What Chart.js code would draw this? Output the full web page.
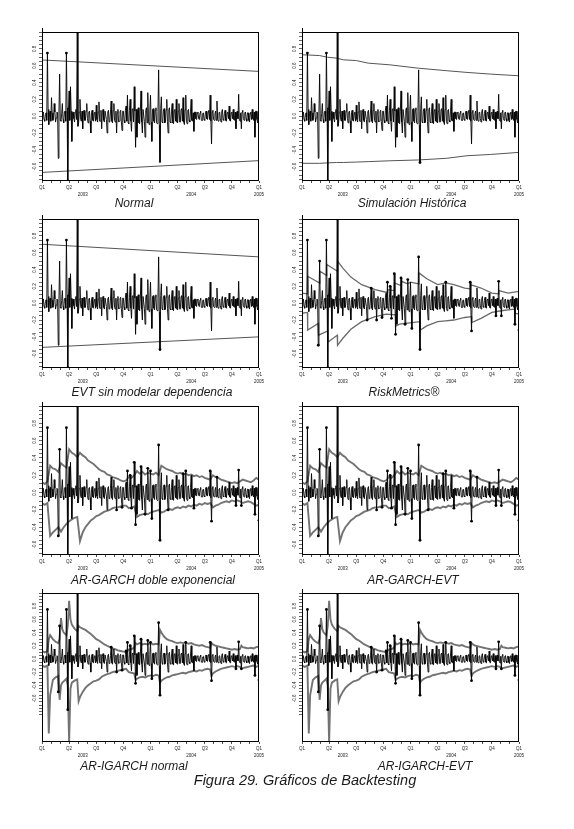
<!DOCTYPE html>
<html><head><meta charset="utf-8">
<script src="https://cdn.jsdelivr.net/npm/chart.js@4.4.1/dist/chart.umd.min.js"></script>
<style>
html,body{margin:0;padding:0;background:#fff;}
body{width:574px;height:829px;position:relative;overflow:hidden;font-family:"Liberation Sans",Arial,sans-serif;}
canvas{position:absolute;}
.t{position:absolute;font-style:italic;font-size:12px;color:#1a1a1a;white-space:nowrap;transform:translate(-50%,-50%);line-height:14px;}
.cap{position:absolute;font-style:italic;font-size:14.5px;color:#1a1a1a;white-space:nowrap;transform:translate(-50%,-50%);line-height:16px;}
</style></head><body>
<script>
// ---------- DATA ----------
const STEP = 0.025;      // quarters between return observations
const BAND_STEP = 0.1;   // quarters between GARCH band observations
const quarterLabels = ['Q1','Q2','Q3','Q4','Q1','Q2','Q3','Q4','Q1'];
const yearLabels = ['2003','2004','2005'];
const yearPositions = [1.5, 5.5, 8];
const yLabelValues = [-0.6,-0.4,-0.2,0,0.2,0.4,0.6,0.8];

const returns = [
 -0.03,0.03,0.05,-0.04,-0.06,0.02,0.04,-0.05,0.75,0.08,-0.10,0.03,0.06,-0.06,0.22,0.04,-0.05,-0.03,0.15,0.05,
 -0.07,-0.02,0.05,0.04,-0.50,0.06,0.50,-0.05,-0.06,0.03,0.15,-0.04,-0.08,0.05,0.06,-0.06,0.75,0.10,-0.77,0.07,
 0.30,-0.05,0.35,0.06,-0.30,0.04,0.05,-0.03,-0.07,0.05,0.08,-0.04,1.00,-0.12,-0.08,0.05,0.20,-0.04,-0.06,0.06,
 -0.15,0.04,0.07,-0.05,-0.05,0.06,0.15,-0.03,-0.08,0.05,0.06,-0.06,-0.20,0.04,0.07,-0.05,-0.06,0.03,0.05,-0.06,
 0.13,-0.04,-0.07,0.05,0.17,-0.06,-0.06,0.07,-0.15,0.04,0.08,-0.05,-0.07,0.06,0.06,-0.04,-0.20,0.05,0.07,-0.07,
 -0.06,0.05,0.18,-0.06,-0.08,0.07,0.15,-0.05,-0.07,0.06,-0.20,0.04,0.08,-0.07,-0.06,0.05,0.07,-0.06,-0.17,0.06,
 0.06,-0.05,-0.08,0.07,0.12,-0.06,0.25,-0.08,-0.09,0.07,0.20,-0.06,-0.18,0.08,0.09,-0.07,0.35,0.06,-0.37,0.08,
 -0.25,0.07,0.10,-0.08,-0.09,0.06,0.30,-0.07,-0.20,0.08,0.08,-0.06,-0.25,0.07,0.10,-0.08,0.28,-0.06,-0.10,0.07,
 0.25,-0.07,-0.30,0.08,0.09,-0.06,-0.08,0.07,0.10,-0.08,-0.09,0.06,0.55,-0.10,-0.55,0.09,0.23,-0.07,-0.08,0.06,
 0.09,-0.08,-0.07,0.07,0.20,-0.06,-0.20,0.08,0.10,-0.07,-0.08,0.06,0.15,-0.08,-0.09,0.07,0.08,-0.06,0.20,-0.07,
 -0.08,0.06,0.15,-0.07,-0.07,0.08,0.09,-0.06,0.22,-0.07,-0.10,0.08,0.25,-0.06,-0.09,0.07,0.08,-0.05,-0.07,0.06,
 0.20,-0.05,-0.06,0.04,-0.18,0.05,0.05,-0.03,-0.04,0.04,0.05,-0.03,-0.04,0.04,0.06,-0.05,-0.05,0.03,0.04,-0.04,
 -0.05,0.04,0.06,-0.03,-0.04,0.05,0.07,-0.04,0.25,-0.06,-0.33,0.05,0.07,-0.04,-0.05,0.03,0.06,-0.05,0.18,-0.04,
 -0.06,0.04,0.05,-0.03,-0.07,0.05,0.08,-0.04,-0.05,0.03,0.07,-0.05,-0.06,0.04,0.05,-0.03,0.12,-0.05,-0.06,0.04,
 0.05,-0.03,0.08,-0.04,-0.05,0.05,-0.15,0.04,0.06,-0.03,0.26,-0.05,-0.06,0.04,-0.15,0.05,0.07,-0.03,-0.05,0.04,
 0.05,-0.03,-0.06,0.04,0.04,-0.05,-0.07,0.03,0.05,-0.04,0.08,-0.03,-0.05,0.05,-0.25,0.06,0.06,-0.04,-0.08,0.05,
 -0.32
];

const normalX = [0, 8];
const normalUp = [0.668, 0.532];
const normalLo = [-0.668, -0.528];

const hsX = [0,0.65,0.94,1.27,1.52,2.01,2.44,3.24,4.29,5.34,6.08,6.94,8];
const hsUp = [0.73,0.72,0.70,0.69,0.67,0.66,0.63,0.61,0.57,0.54,0.52,0.50,0.48];
const hsLo = [-0.56,-0.56,-0.555,-0.55,-0.55,-0.545,-0.54,-0.53,-0.52,-0.50,-0.47,-0.455,-0.43];

const evtX = [0, 8];
const evtUp = [0.70, 0.55];
const evtLo = [-0.525, -0.40];

const rmUpX = [0,0.2,0.21,0.65,0.66,0.9,0.91,1.3,1.31,1.5,1.8,2.2,2.7,3.1,3.15,3.16,3.4,3.41,3.65,3.66,3.9,4.0,4.3,4.31,4.6,5.0,5.3,5.6,6.0,6.2,6.21,6.6,7.0,7.25,7.26,7.6,8.0];
const rmUp = [0.12,0.11,0.32,0.24,0.38,0.33,0.46,0.38,0.50,0.42,0.31,0.22,0.16,0.13,0.13,0.16,0.15,0.24,0.21,0.26,0.23,0.25,0.23,0.36,0.29,0.22,0.24,0.22,0.18,0.17,0.22,0.18,0.12,0.11,0.15,0.12,0.14];
const rmLoX = [0,0.2,0.21,0.6,0.61,0.95,0.96,1.3,1.31,1.5,1.8,2.2,2.7,3.1,3.45,3.46,3.6,3.8,4.05,4.35,4.36,4.6,5.0,5.3,5.6,6.0,6.25,6.26,6.6,7.0,7.35,7.6,7.85,7.86,8.0];
const rmLo = [-0.12,-0.11,-0.32,-0.24,-0.38,-0.33,-0.46,-0.38,-0.50,-0.42,-0.31,-0.22,-0.16,-0.13,-0.14,-0.27,-0.25,-0.24,-0.23,-0.22,-0.32,-0.27,-0.22,-0.21,-0.20,-0.17,-0.16,-0.23,-0.18,-0.11,-0.09,-0.08,-0.07,-0.12,-0.13];

const garchUp = [
 0.12,0.10,0.13,0.31,0.28,0.27,0.24,0.34,0.31,0.29,
 0.50,0.46,0.44,0.41,0.46,0.43,0.41,0.37,0.35,0.33,
 0.30,0.27,0.25,0.24,0.21,0.20,0.18,0.17,0.16,0.14,
 0.13,0.14,0.18,0.17,0.20,0.25,0.22,0.24,0.21,0.23,
 0.22,0.21,0.23,0.20,0.31,0.29,0.27,0.26,0.25,0.23,
 0.22,0.23,0.21,0.22,0.20,0.21,0.19,0.20,0.18,0.19,
 0.17,0.16,0.15,0.20,0.18,0.17,0.15,0.14,0.13,0.12,
 0.11,0.12,0.11,0.13,0.15,0.14,0.13,0.12,0.14,0.17,
 0.15
];
const garchLo = [
 -0.12,-0.14,-0.12,-0.50,-0.46,-0.43,-0.40,-0.45,-0.40,-0.36,
 -0.33,-0.31,-0.29,-0.28,-0.56,-0.46,-0.40,-0.36,-0.32,-0.30,
 -0.27,-0.26,-0.24,-0.22,-0.21,-0.20,-0.18,-0.17,-0.17,-0.16,
 -0.15,-0.15,-0.18,-0.17,-0.16,-0.28,-0.26,-0.25,-0.24,-0.25,
 -0.23,-0.22,-0.21,-0.20,-0.23,-0.22,-0.20,-0.19,-0.20,-0.18,
 -0.17,-0.18,-0.16,-0.17,-0.15,-0.16,-0.14,-0.15,-0.13,-0.14,
 -0.12,-0.13,-0.12,-0.17,-0.15,-0.14,-0.12,-0.11,-0.10,-0.11,
 -0.09,-0.10,-0.09,-0.10,-0.12,-0.11,-0.10,-0.11,-0.13,-0.15,
 -0.14
];

const igX = [0,0.1,0.2,0.25,0.3,0.4,0.5,0.6,0.65,0.7,0.75,0.8,0.9,0.95,1.0,1.05,1.1,1.2,1.3,1.35,
 1.4,1.5,1.6,1.7,1.8,1.9,2.0,2.1,2.2,2.3,2.4,2.5,2.6,2.7,2.8,2.9,3.0,3.1,3.2,3.3,3.4,
 3.45,3.5,3.6,3.7,3.8,3.9,4.0,4.1,4.2,4.3,4.35,
 4.4,4.5,4.6,4.7,4.8,4.9,5.0,5.1,5.2,5.3,5.4,5.5,5.6,5.7,5.8,5.9,6.0,6.1,6.2,6.25,
 6.3,6.4,6.5,6.6,6.7,6.8,6.9,7.0,7.1,7.2,7.3,7.35,7.4,7.5,7.6,7.7,7.8,7.9,8.0];
const igUp = [0.12,0.10,0.12,0.30,0.36,0.30,0.26,0.24,0.30,0.62,0.45,0.40,0.36,0.50,0.88,0.60,0.52,0.46,0.42,0.50,
 0.48,0.46,0.44,0.41,0.38,0.34,0.30,0.28,0.25,0.22,0.20,0.18,0.16,0.15,0.13,0.12,0.11,0.10,0.14,0.15,0.17,
 0.24,0.22,0.24,0.22,0.23,0.22,0.24,0.22,0.23,0.22,0.44,
 0.40,0.34,0.30,0.28,0.27,0.25,0.24,0.25,0.24,0.25,0.23,0.24,0.22,0.21,0.20,0.21,0.19,0.18,0.17,0.24,
 0.22,0.20,0.19,0.18,0.17,0.16,0.15,0.14,0.15,0.14,0.15,0.20,0.18,0.17,0.16,0.17,0.16,0.18,0.19];
const igLo = [-0.10,-0.12,-0.10,-1.13,-0.55,-0.32,-0.28,-0.26,-0.62,-0.40,-0.36,-0.34,-0.30,-0.40,-1.26,-0.45,-0.36,-0.33,-0.31,-0.64,
 -0.58,-0.50,-0.44,-0.40,-0.37,-0.34,-0.33,-0.31,-0.27,-0.25,-0.23,-0.22,-0.20,-0.19,-0.18,-0.17,-0.16,-0.15,-0.20,-0.21,-0.22,
 -0.32,-0.30,-0.28,-0.27,-0.28,-0.26,-0.25,-0.26,-0.24,-0.25,-0.36,
 -0.33,-0.30,-0.28,-0.27,-0.25,-0.24,-0.23,-0.22,-0.21,-0.22,-0.20,-0.19,-0.18,-0.19,-0.17,-0.18,-0.16,-0.15,-0.16,-0.26,
 -0.22,-0.19,-0.17,-0.15,-0.14,-0.13,-0.12,-0.11,-0.12,-0.11,-0.12,-0.15,-0.14,-0.13,-0.12,-0.11,-0.10,-0.12,-0.10];

const garchX = garchUp.map((_, i) => i * BAND_STEP);

// ---------- LAYOUT ----------
const COLS = [42, 302];
const ROWS = [32, 219, 406, 593];
const PLOT_W = 217, PLOT_H = 149;
const Y_W = 14, PAD_T = 6, PAD_R = 10, PAD_B = 2, X_H = 10, X2_H = 7;

const STYLES = {
  thin:  {color:'#555555', width:1},
  rm:    {color:'#6a6a6a', width:1.3},
  garch: {color:'#737373', width:1.9}
};

const panels = [
  {col:0,row:0,title:'Normal',tx:134,ty:203,upX:normalX,up:normalUp,loX:normalX,lo:normalLo,style:'thin',yMin:-0.77,yMax:1.0},
  {col:1,row:0,title:'Simulación Histórica',tx:412,ty:203,upX:hsX,up:hsUp,loX:hsX,lo:hsLo,style:'thin',yMin:-0.77,yMax:1.0},
  {col:0,row:1,title:'EVT sin modelar dependencia',tx:152,ty:392,upX:evtX,up:evtUp,loX:evtX,lo:evtLo,style:'thin',yMin:-0.77,yMax:1.0},
  {col:1,row:1,title:'RiskMetrics®',tx:404,ty:392,upX:rmUpX,up:rmUp,loX:rmLoX,lo:rmLo,style:'rm',yMin:-0.77,yMax:1.0},
  {col:0,row:2,title:'AR-GARCH doble exponencial',tx:153,ty:580,upX:garchX,up:garchUp,loX:garchX,lo:garchLo,style:'garch',yMin:-0.72,yMax:1.0},
  {col:1,row:2,title:'AR-GARCH-EVT',tx:413,ty:580,upX:garchX,up:garchUp,loX:garchX,lo:garchLo,style:'garch',yMin:-0.72,yMax:1.0},
  {col:0,row:3,title:'AR-IGARCH normal',tx:134,ty:766,upX:igX,up:igUp,loX:igX,lo:igLo,style:'garch',yMin:-1.26,yMax:1.0},
  {col:1,row:3,title:'AR-IGARCH-EVT',tx:425,ty:766,upX:igX,up:igUp,loX:igX,lo:igLo,style:'garch',yMin:-1.26,yMax:1.0}
];

function interp(xs, ys, x){
  if (x <= xs[0]) return ys[0];
  for (let k = 1; k < xs.length; k++){
    if (x <= xs[k]){ const t = (x - xs[k-1]) / (xs[k] - xs[k-1]); return ys[k-1] + t * (ys[k] - ys[k-1]); }
  }
  return ys[ys.length - 1];
}
const toPts = (xs, ys) => ys.map((v, i) => ({x: xs[i], y: v}));

const monthTicks = [];
for (let k = 0; k <= 24; k++) monthTicks.push(k / 3);

const frameAndLabels = {
  id: 'frameAndLabels',
  afterDraw(chart){
    const {ctx, chartArea: a} = chart;
    const y = chart.scales.y;
    ctx.save();
    ctx.strokeStyle = '#000'; ctx.lineWidth = 1;
    ctx.strokeRect(Math.round(a.left) + 0.5, Math.round(a.top) + 0.5, Math.round(a.right - a.left) - 1, Math.round(a.bottom - a.top) - 1);
    ctx.beginPath(); ctx.moveTo(Math.round(a.left) + 0.5, a.top); ctx.lineTo(Math.round(a.left) + 0.5, a.top - 4); ctx.stroke();
    ctx.fillStyle = '#222'; ctx.font = '4.5px "Liberation Sans", Arial, sans-serif';
    ctx.textAlign = 'center'; ctx.textBaseline = 'middle';
    yLabelValues.forEach(v => {
      if (v < y.min || v > y.max) return;
      const py = y.getPixelForValue(v);
      ctx.save(); ctx.translate(a.left - 7.5, py); ctx.rotate(-Math.PI / 2);
      ctx.fillText(v.toFixed(1), 0, 0); ctx.restore();
    });
    ctx.restore();
  }
};

panels.forEach((p) => {
  const cv = document.createElement('canvas');
  const W = PLOT_W + Y_W + PAD_R, H = PAD_T + PLOT_H + X_H + X2_H + PAD_B;
  cv.width = W; cv.height = H;
  cv.style.width = W + 'px'; cv.style.height = H + 'px';
  cv.style.left = (COLS[p.col] - Y_W) + 'px';
  cv.style.top = (ROWS[p.row] - PAD_T) + 'px';
  document.body.appendChild(cv);

  const t = document.createElement('div');
  t.className = 't'; t.textContent = p.title;
  t.style.left = p.tx + 'px'; t.style.top = p.ty + 'px';
  document.body.appendChild(t);

  const retPts = returns.map((r, i) => ({x: i * STEP, y: r}));
  const dots = retPts.filter(pt => pt.y > interp(p.upX, p.up, pt.x) || pt.y < interp(p.loX, p.lo, pt.x));
  const st = STYLES[p.style];

  new Chart(cv, {
    type: 'line',
    data: { datasets: [
      {data: dots, showLine: false, pointRadius: 1.4, pointBackgroundColor: '#000', pointBorderWidth: 0, order: 0},
      {data: retPts, borderColor: '#000', borderWidth: 0.9, pointRadius: 0, tension: 0, order: 1},
      {data: toPts(p.upX, p.up), borderColor: st.color, borderWidth: st.width, pointRadius: 0, tension: 0, order: 2},
      {data: toPts(p.loX, p.lo), borderColor: st.color, borderWidth: st.width, pointRadius: 0, tension: 0, order: 3}
    ]},
    options: {
      responsive: false, animation: false, events: [],
      layout: {padding: {top: PAD_T, right: PAD_R, bottom: PAD_B, left: 0}},
      plugins: {legend: {display: false}, tooltip: {enabled: false}},
      scales: {
        x: {type: 'linear', min: 0, max: 8, position: 'bottom', weight: 0,
            afterBuildTicks(s){ s.ticks = monthTicks.map(v => ({value: v})); },
            ticks: {autoSkip: false, maxRotation: 0, minRotation: 0, padding: 2, color: '#222',
                    font: {size: 4.5, family: '"Liberation Sans", Arial'},
                    callback: (v, i) => (i % 3 === 0 ? quarterLabels[i / 3] : '')},
            grid: {display: true, drawOnChartArea: false, drawTicks: true, tickLength: 2, color: '#000', lineWidth: 0.7},
            border: {display: false},
            afterFit(s){ s.height = X_H; }},
        x2: {type: 'linear', min: 0, max: 8, position: 'bottom', weight: 1,
            afterBuildTicks(s){ s.ticks = yearPositions.map(v => ({value: v})); },
            ticks: {autoSkip: false, maxRotation: 0, minRotation: 0, padding: 1, color: '#222',
                    font: {size: 4.5, family: '"Liberation Sans", Arial'},
                    callback: (v, i) => yearLabels[i]},
            grid: {display: false, drawTicks: false},
            border: {display: false},
            afterFit(s){ s.height = X2_H; }},
        y: {type: 'linear', min: p.yMin, max: p.yMax, position: 'left',
            afterBuildTicks(s){
              const arr = [];
              const lo = Math.max(p.yMin, -0.85);
              for (let k = Math.ceil(lo / 0.05 - 1e-9); k * 0.05 <= p.yMax + 1e-9; k++) arr.push({value: k * 0.05});
              s.ticks = arr;
            },
            ticks: {display: false},
            grid: {display: true, drawOnChartArea: false, drawTicks: true, tickLength: 3, color: '#000', lineWidth: 0.6},
            border: {display: false},
            afterFit(s){ s.width = Y_W; }}
      }
    },
    plugins: [frameAndLabels]
  });
});

const cap = document.createElement('div');
cap.className = 'cap'; cap.textContent = 'Figura 29. Gráficos de Backtesting';
cap.style.left = '305px'; cap.style.top = '780px';
document.body.appendChild(cap);
</script>
</body></html>
